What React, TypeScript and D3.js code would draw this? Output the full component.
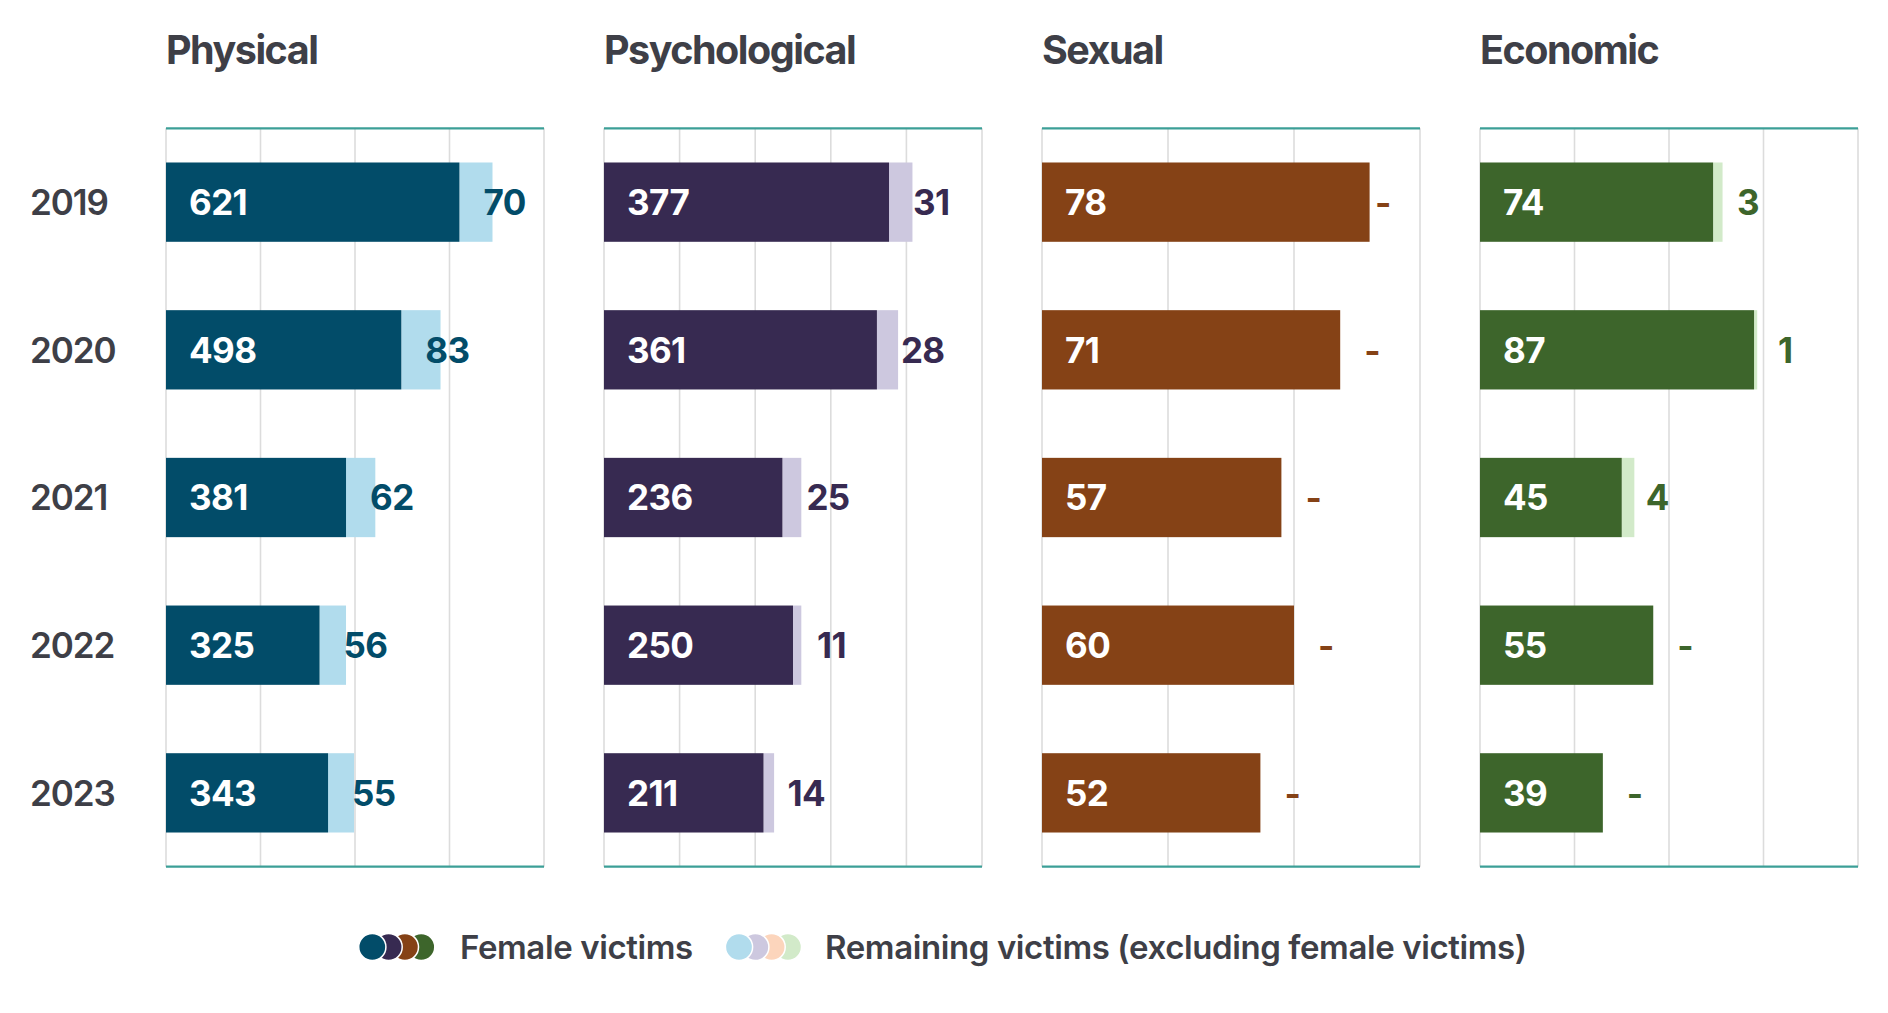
import React from "react";
import * as d3 from "d3";

const years = ["2019", "2020", "2021", "2022", "2023"];
const categories = ["Physical", "Psychological", "Sexual", "Economic"];

const physicalFemale = [621, 498, 381, 325, 343];
const physicalRemaining: (number | null)[] = [70, 83, 62, 56, 55];
const psychologicalFemale = [377, 361, 236, 250, 211];
const psychologicalRemaining: (number | null)[] = [31, 28, 25, 11, 14];
const sexualFemale = [78, 71, 57, 60, 52];
const sexualRemaining: (number | null)[] = [null, null, null, null, null];
const economicFemale = [74, 87, 45, 55, 39];
const economicRemaining: (number | null)[] = [3, 1, 4, null, null];

const physicalTicks = [0, 200, 400, 600, 800];
const psychologicalTicks = [0, 100, 200, 300, 400, 500];
const sexualTicks = [0, 30, 60, 90];
const economicTicks = [0, 30, 60, 90, 120];

const darkColors = ["#024c69", "#372a51", "#854216", "#3d652b"];
const lightColors = ["#b1dced", "#cdc8df", "#fcd5bc", "#d2eac9"];

const legendLabels = ["Female victims", "Remaining victims (excluding female victims)"];

const femaleSeries = [physicalFemale, psychologicalFemale, sexualFemale, economicFemale];
const remainingSeries = [physicalRemaining, psychologicalRemaining, sexualRemaining, economicRemaining];
const tickSeries = [physicalTicks, psychologicalTicks, sexualTicks, economicTicks];

const W = 1888;
const H = 1013;
const FONT = "Inter, 'Noto Sans', sans-serif";
const TEXT = "#3e3f47";
const TEAL = "#3c9f97";
const GRID = "#dcdcdc";

const panelX = [166, 604, 1042, 1480];
const panelW = 378;
const top = 128.3;
const bottom = 866.7;

const y = d3
  .scaleBand<string>()
  .domain(years)
  .range([top, bottom])
  .paddingInner(0.463)
  .paddingOuter(0.2315);

export default function App() {
  return (
    <svg
      width={W}
      height={H}
      viewBox={`0 0 ${W} ${H}`}
      style={{ position: "absolute", left: 0, top: 0, background: "#fff" }}
      fontFamily={FONT}
    >
      <rect x={0} y={0} width={W} height={H} fill="#fff" />
      {years.map((yr) => (
        <text
          key={yr}
          x={30}
          y={(y(yr) as number) + y.bandwidth() / 2 + 12.7}
          fontSize={35}
          fontWeight={600}
          fill={TEXT}
          letterSpacing={-1.1}
        >
          {yr}
        </text>
      ))}
      {categories.map((cat, ci) => {
        const x0 = panelX[ci];
        const ticks = tickSeries[ci];
        const x = d3
          .scaleLinear()
          .domain([0, ticks[ticks.length - 1]])
          .range([x0, x0 + panelW]);
        const fem = femaleSeries[ci];
        const rem = remainingSeries[ci];
        return (
          <g key={cat}>
            <text
              x={x0}
              y={64}
              fontSize={39.5}
              fontWeight={700}
              fill={TEXT}
              letterSpacing={-1.5}
            >
              {cat}
            </text>
            {ticks.map((t) => (
              <line
                key={t}
                x1={x(t)}
                x2={x(t)}
                y1={top}
                y2={bottom}
                stroke={GRID}
                strokeWidth={1.6}
              />
            ))}
            {years.map((yr, i) => {
              const yy = y(yr) as number;
              const bh = y.bandwidth();
              const f = fem[i];
              const r = rem[i];
              const fEnd = x(f);
              const rEnd = r ? x(f + r) : fEnd;
              const cy = yy + bh / 2;
              const remX = Math.min(fEnd + 24, x0 + panelW - 45);
              return (
                <g key={yr}>
                  {r ? (
                    <rect
                      x={fEnd}
                      y={yy}
                      width={rEnd - fEnd}
                      height={bh}
                      fill={lightColors[ci]}
                    />
                  ) : null}
                  <rect
                    x={x0}
                    y={yy}
                    width={fEnd - x0}
                    height={bh}
                    fill={darkColors[ci]}
                  />
                  <text
                    x={x0 + 23}
                    y={cy + 12.7}
                    fontSize={35}
                    fontWeight={700}
                    fill="#fff"
                    letterSpacing={-0.6}
                  >
                    {f}
                  </text>
                  <text
                    x={remX}
                    y={cy + 12.7}
                    fontSize={35}
                    fontWeight={700}
                    fill={darkColors[ci]}
                    letterSpacing={-0.6}
                  >
                    {r === null ? "-" : r}
                  </text>
                </g>
              );
            })}
            <line x1={x0} x2={x0 + panelW} y1={top} y2={top} stroke={TEAL} strokeWidth={2.2} />
            <line x1={x0} x2={x0 + panelW} y1={bottom} y2={bottom} stroke={TEAL} strokeWidth={2.2} />
          </g>
        );
      })}
      {/* Legend */}
      {[0, 1].map((li) => {
        const startX = li === 0 ? 372.3 : 739;
        const textX = li === 0 ? 460 : 825;
        const cols = li === 0 ? darkColors : lightColors;
        return (
          <g key={li}>
            {cols
              .map((c, k) => ({ c, k }))
              .reverse()
              .map(({ c, k }) => (
                <circle
                  key={k}
                  cx={startX + k * 16.3}
                  cy={947}
                  r={13.6}
                  fill={c}
                  stroke="#fff"
                  strokeWidth={1.5}
                />
              ))}
            <text
              x={textX}
              y={947 + 12.2}
              fontSize={33}
              fontWeight={600}
              fill={TEXT}
              letterSpacing={-0.4}
            >
              {legendLabels[li]}
            </text>
          </g>
        );
      })}
    </svg>
  );
}
